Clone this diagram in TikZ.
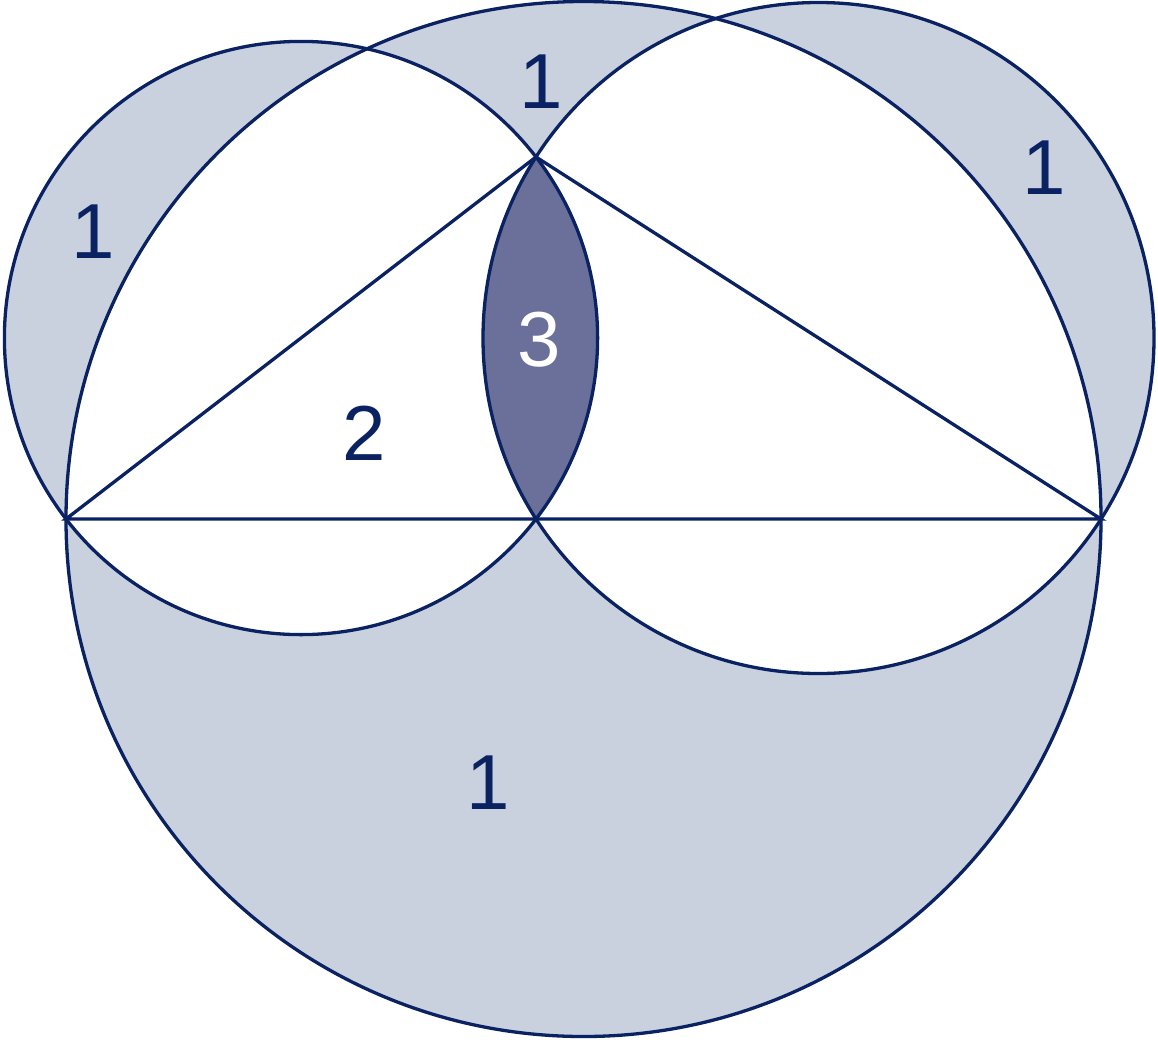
\documentclass[tikz,border=0pt]{standalone}
\usepackage{fontspec}
\setmainfont{Liberation Sans}
\definecolor{navy}{HTML}{0A2262}
\definecolor{light}{HTML}{C9D1DF}
\definecolor{dark}{HTML}{6A7099}
\begin{document}
\begin{tikzpicture}[x=1pt,y=-1pt,
  edge/.style={draw=navy,line width=3.3pt},
  lbl/.style={font=\fontsize{78}{84}\selectfont,text=navy,inner sep=0pt}]
\useasboundingbox (0,0) rectangle (1158,1039);
\coordinate (A) at (66,519);
\coordinate (B) at (1101,519);
\coordinate (C) at (536,157);
\coordinate (L) at (301,338);
\coordinate (R) at (818.5,338);
\coordinate (O) at (583.5,519);
\fill[light,even odd rule] (L) circle[radius=296.6] (R) circle[radius=335.5] (O) circle[radius=517.5];
\begin{scope}
\clip (L) circle[radius=296.6];
\fill[dark] (R) circle[radius=335.5];
\end{scope}
\draw[edge] (L) circle[radius=296.6];
\draw[edge] (R) circle[radius=335.5];
\draw[edge] (O) circle[radius=517.5];
\draw[edge,line join=miter] (A) -- (B) -- (C) -- cycle;
\node[lbl] (l1) at (93,232) {1};
\node[lbl] (l2) at (541,82) {1};
\node[lbl] (l3) at (1044,168) {1};
\node[lbl] (l4) at (488,783) {1};
\node[lbl] (l5) at (364,433) {2};
\node[lbl,text=white] (l6) at (539,340) {3};
\end{tikzpicture}
\end{document}
